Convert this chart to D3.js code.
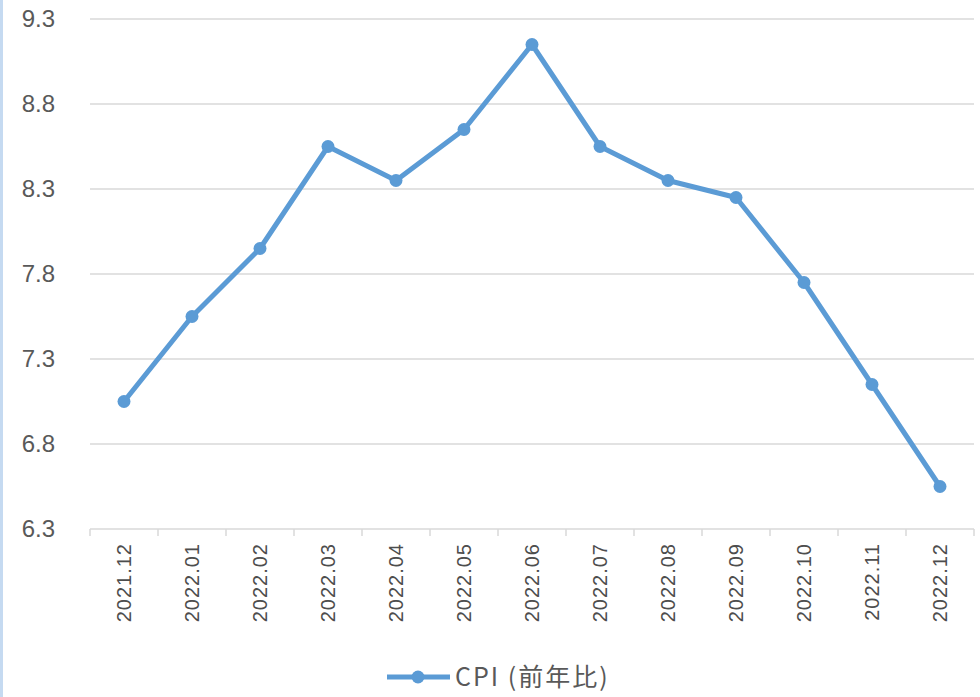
<!DOCTYPE html>
<html>
  <head>
    <meta charset="utf-8" />
    <script src="https://cdn.jsdelivr.net/npm/d3@7"></script>
    <style>
      body { margin: 0; background: #fff; }
      #chart { width: 980px; height: 697px; }
      .ylab { font-family: "Liberation Sans", Arial, sans-serif; font-size: 24px; fill: #595959; }
      .xlab { font-family: "Liberation Sans", Arial, sans-serif; font-size: 20px; fill: #4d4d4d; letter-spacing: 1px; }
      .legend { font-family: "Noto Sans CJK JP", sans-serif; font-size: 25px; fill: #595959; letter-spacing: 2px; }
    </style>
  </head>
  <body>
    <div id="chart"></div>
    <script>
// data
var months = ["2021.12", "2022.01", "2022.02", "2022.03", "2022.04", "2022.05", "2022.06",
              "2022.07", "2022.08", "2022.09", "2022.10", "2022.11", "2022.12"];
var cpi = [7.0, 7.5, 7.9, 8.5, 8.3, 8.6, 9.1, 8.5, 8.3, 8.2, 7.7, 7.1, 6.5];
var yTicks = [6.25, 6.75, 7.25, 7.75, 8.25, 8.75, 9.25];
var yTickLabels = ["6.3", "6.8", "7.3", "7.8", "8.3", "8.8", "9.3"];
var seriesName = "CPI (前年比)";

var width = 980, height = 697;
var plotLeft = 90, plotRight = 974, plotTop = 19, plotBottom = 529;
var blue = "#5B9BD5", grid = "#d9d9d9";

var svg = d3.select("#chart").append("svg")
  .attr("width", width)
  .attr("height", height);

// thin blue border on the left edge
svg.append("rect")
  .attr("x", 0).attr("y", 0)
  .attr("width", 3).attr("height", height)
  .attr("fill", "#c5daf1");

var x = d3.scaleBand().domain(months).range([plotLeft, plotRight]);
var y = d3.scaleLinear().domain([6.25, 9.25]).range([plotBottom, plotTop]);

// gridlines
svg.selectAll(".grid")
  .data(yTicks.slice(1))
  .enter()
  .append("line")
    .attr("x1", plotLeft).attr("x2", plotRight)
    .attr("y1", function(d) { return y(d); })
    .attr("y2", function(d) { return y(d); })
    .attr("stroke", grid)
    .attr("stroke-width", 1.5);

// y labels
svg.selectAll(".ylab")
  .data(yTicks)
  .enter()
  .append("text")
    .attr("class", "ylab")
    .attr("x", 55)
    .attr("y", function(d) { return y(d); })
    .attr("dy", "0.35em")
    .attr("text-anchor", "end")
    .text(function(d, i) { return yTickLabels[i]; });

// x axis line + ticks at category boundaries
svg.append("line")
  .attr("x1", plotLeft).attr("x2", plotRight)
  .attr("y1", y(6.25)).attr("y2", y(6.25))
  .attr("stroke", grid)
  .attr("stroke-width", 1.5);

var edges = months.map(function(m) { return x(m); }).concat([x.range()[1]]);
svg.selectAll(".xtick")
  .data(edges)
  .enter()
  .append("line")
    .attr("x1", function(d) { return d; })
    .attr("x2", function(d) { return d; })
    .attr("y1", y(6.25))
    .attr("y2", y(6.25) + 7)
    .attr("stroke", grid)
    .attr("stroke-width", 1.5);

// x labels, rotated
svg.selectAll(".xlab")
  .data(months)
  .enter()
  .append("text")
    .attr("class", "xlab")
    .attr("transform", function(d) {
      return "translate(" + (x(d) + x.bandwidth() / 2) + "," + 543 + ") rotate(-90)";
    })
    .attr("dy", "0.35em")
    .attr("text-anchor", "end")
    .text(function(d) { return d; });

// line
var line = d3.line()
  .x(function(d, i) { return x(months[i]) + x.bandwidth() / 2; })
  .y(function(d) { return y(d); });

svg.append("path")
  .datum(cpi)
  .attr("d", line)
  .attr("fill", "none")
  .attr("stroke", blue)
  .attr("stroke-width", 5)
  .attr("stroke-linejoin", "round");

svg.selectAll(".pt")
  .data(cpi)
  .enter()
  .append("circle")
    .attr("cx", function(d, i) { return x(months[i]) + x.bandwidth() / 2; })
    .attr("cy", function(d) { return y(d); })
    .attr("r", 6.5)
    .attr("fill", blue);

// legend
var lg = svg.append("g").attr("transform", "translate(0,677)");
lg.append("line")
  .attr("x1", 387).attr("x2", 450)
  .attr("stroke", blue)
  .attr("stroke-width", 5);
lg.append("circle")
  .attr("cx", 418).attr("r", 6.5)
  .attr("fill", blue);
lg.append("text")
  .attr("class", "legend")
  .attr("x", 455)
  .attr("dy", "0.35em")
  .text(seriesName);
    </script>
  </body>
</html>
